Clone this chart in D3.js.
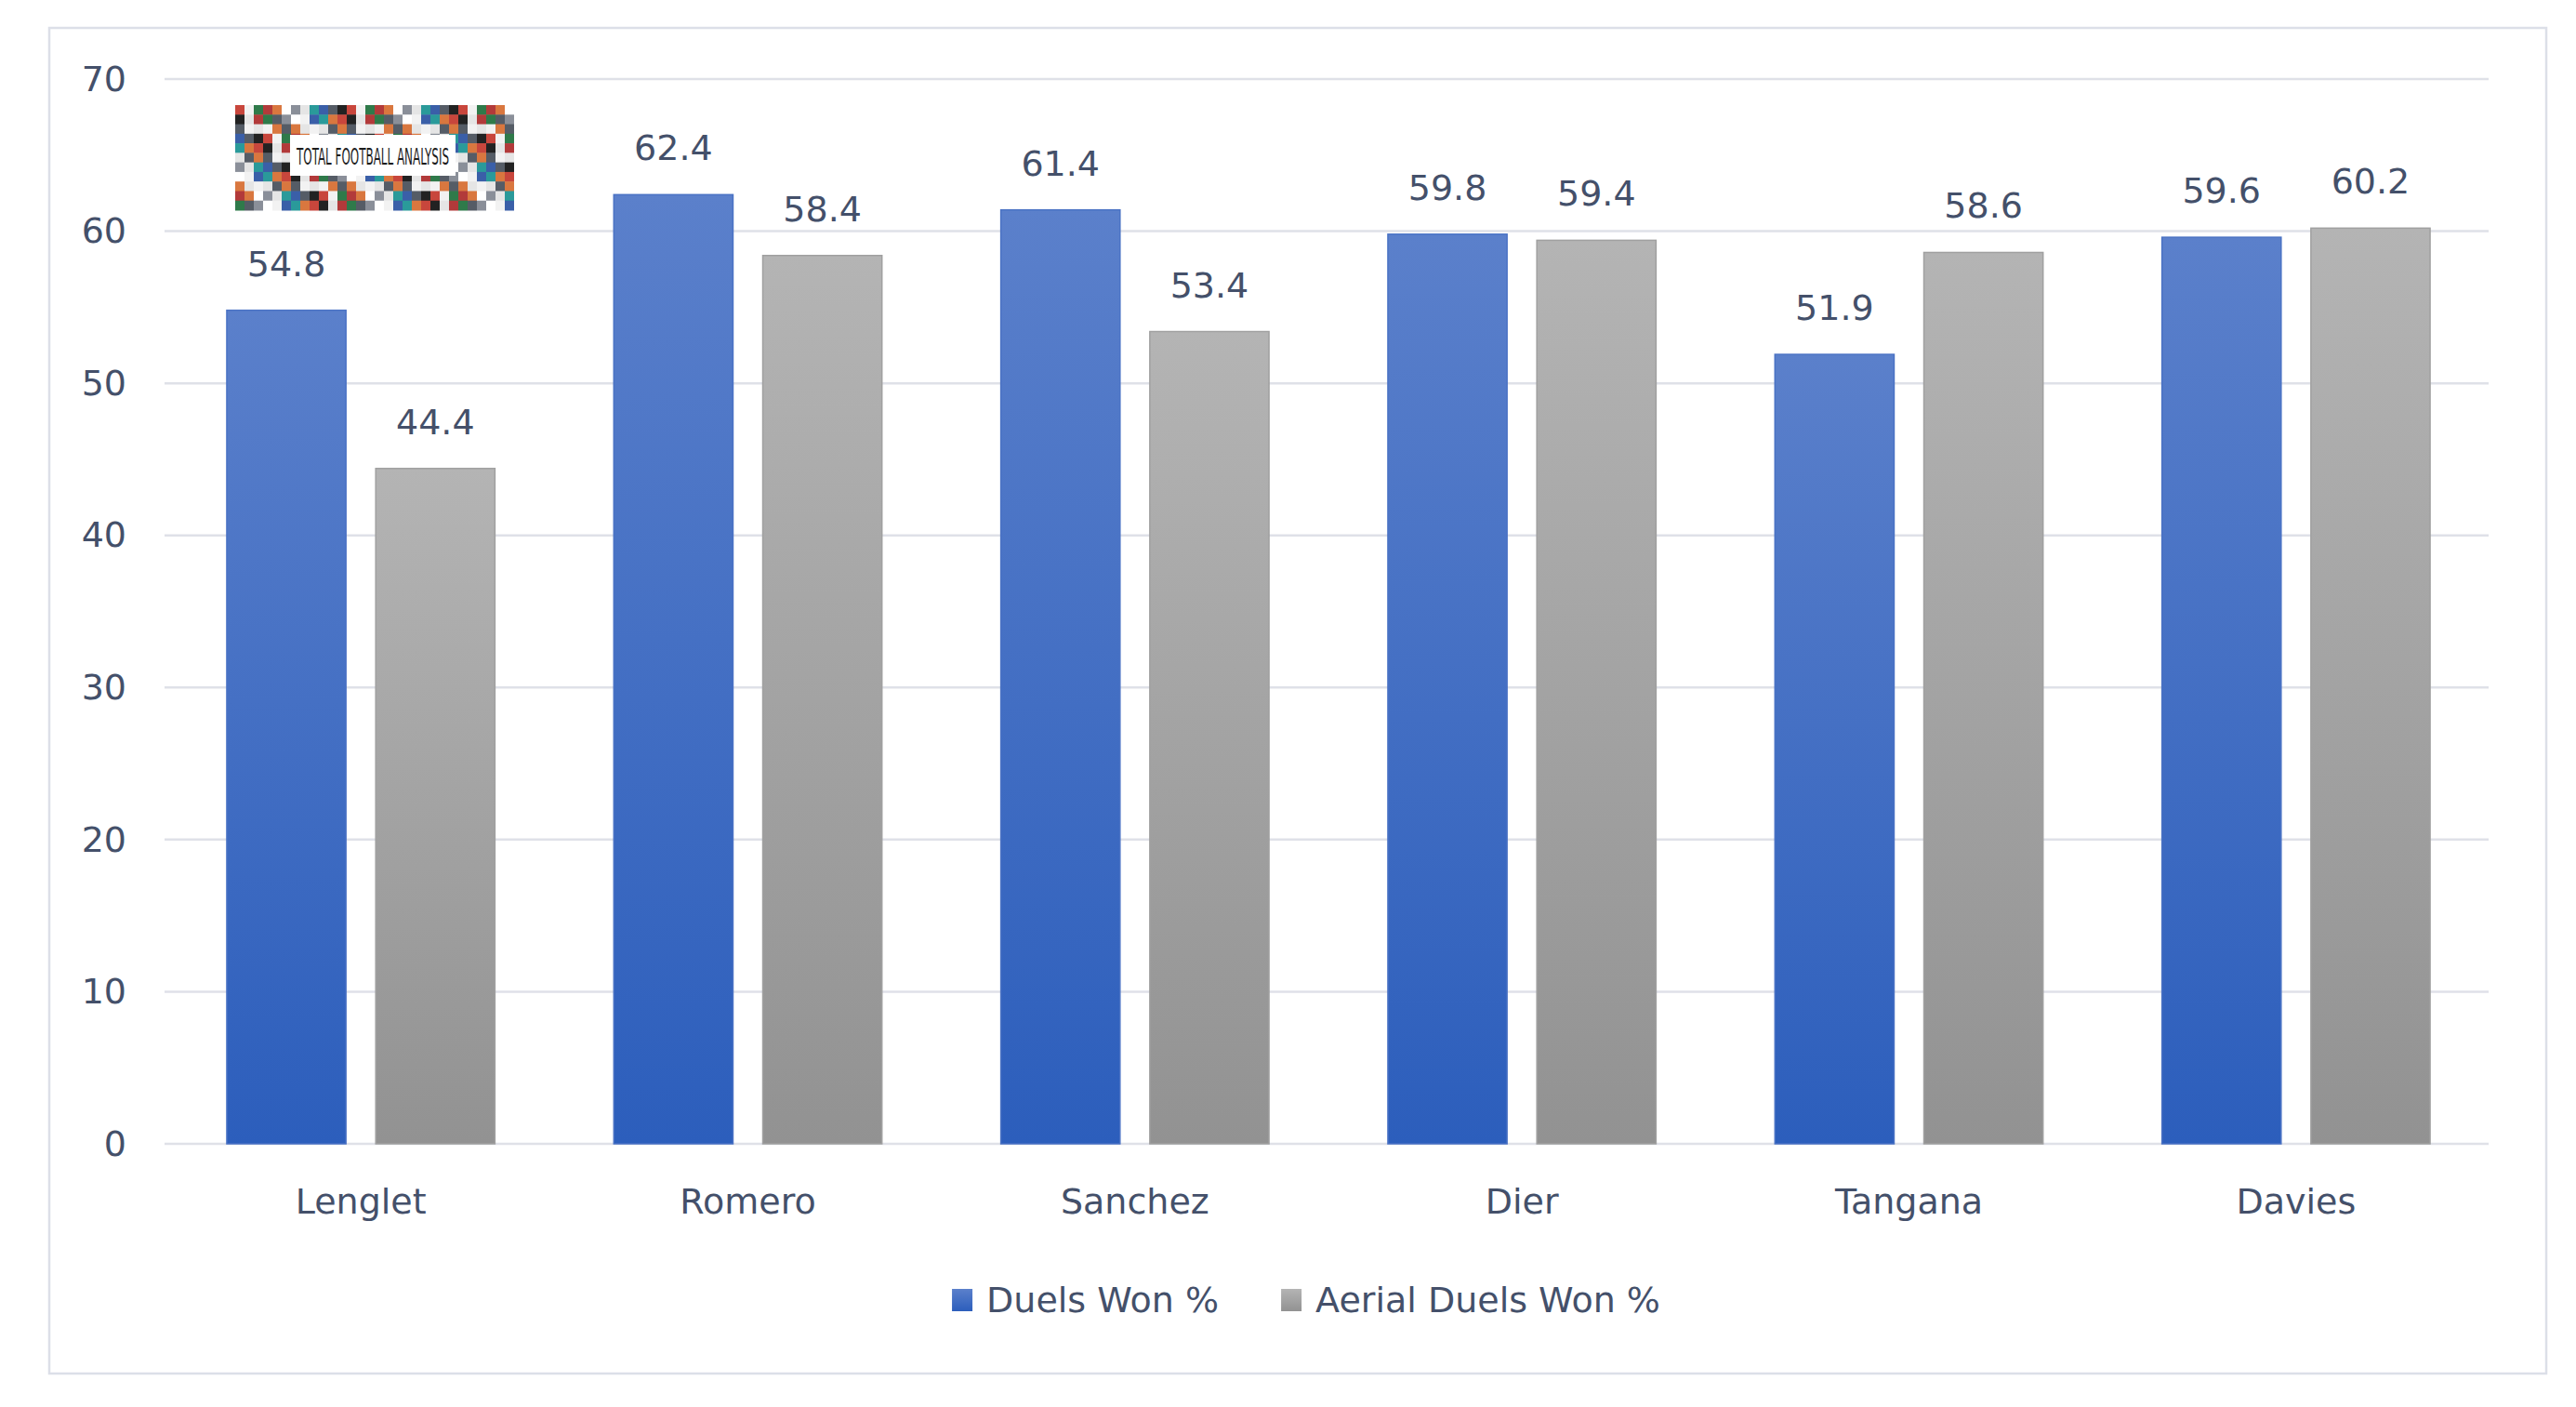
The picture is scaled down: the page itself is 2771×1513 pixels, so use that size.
<!DOCTYPE html>
<html>
<head>
<meta charset="utf-8">
<script src="https://cdn.jsdelivr.net/npm/d3@7"></script>
<style>
  html, body { margin: 0; padding: 0; background: #fff; }
  svg { display: block; font-family: "DejaVu Sans", sans-serif; }
</style>
</head>
<body>
<svg id="chart"></svg>
<script>
const players = ["Lenglet", "Romero", "Sanchez", "Dier", "Tangana", "Davies"];
const seriesNames = ["Duels Won %", "Aerial Duels Won %"];
const duelsWon = [54.8, 62.4, 61.4, 59.8, 51.9, 59.6];
const aerialWon = [44.4, 58.4, 53.4, 59.4, 58.6, 60.2];
const yTicks = [0, 10, 20, 30, 40, 50, 60, 70];

const width = 2771;
const height = 1513;
const plot = { left: 177, right: 2677, top: 85, bottom: 1230 };
const textColor = "#44506a";
const fontSize = "38px";

const svg = d3.select("#chart").attr("width", width).attr("height", height);

// outer chart border
svg.append("rect")
  .attr("x", 53).attr("y", 30)
  .attr("width", 2686).attr("height", 1447)
  .attr("fill", "#fff")
  .attr("stroke", "#dcdfe8")
  .attr("stroke-width", 2.5);

const defs = svg.append("defs");
const grads = [
  { id: "gBlue", top: "#5b80cb", bottom: "#2c5ebc" },
  { id: "gGray", top: "#b4b4b4", bottom: "#929292" }
];
grads.forEach(g => {
  const lg = defs.append("linearGradient")
    .attr("id", g.id).attr("x1", 0).attr("y1", 0).attr("x2", 0).attr("y2", 1);
  lg.append("stop").attr("offset", "0%").attr("stop-color", g.top);
  lg.append("stop").attr("offset", "100%").attr("stop-color", g.bottom);
});

const y = d3.scaleLinear().domain([0, 70]).range([plot.bottom, plot.top]);

const x0 = d3.scaleBand()
  .domain(players)
  .range([plot.left + 3, plot.right + 1])
  .paddingInner(0.3072)
  .paddingOuter(0.1536);

const x1 = d3.scaleBand()
  .domain(seriesNames)
  .range([0, x0.bandwidth()])
  .paddingInner(0.2);

// gridlines
svg.append("g")
  .selectAll("line")
  .data(yTicks)
  .join("line")
  .attr("x1", plot.left).attr("x2", plot.right)
  .attr("y1", d => y(d)).attr("y2", d => y(d))
  .attr("stroke", "#dfe1e8")
  .attr("stroke-width", 2.5);

// y axis labels
const yAxis = svg.append("g")
  .attr("transform", `translate(${plot.left - 41},0)`)
  .call(d3.axisLeft(y).tickValues(yTicks).tickSize(0).tickPadding(0));
yAxis.select(".domain").remove();
yAxis.selectAll("text")
  .attr("fill", textColor)
  .style("font-size", fontSize)
  .style("font-family", "'DejaVu Sans', sans-serif");

// x axis labels
const xAxis = svg.append("g")
  .attr("transform", `translate(0,${plot.bottom})`)
  .call(d3.axisBottom(x0).tickSize(0).tickPadding(48));
xAxis.select(".domain").remove();
xAxis.selectAll("text")
  .attr("fill", textColor)
  .style("font-size", fontSize)
  .style("font-family", "'DejaVu Sans', sans-serif");

const rows = players.map((p, i) => ({
  player: p,
  values: [
    { key: seriesNames[0], value: duelsWon[i], fill: "url(#gBlue)", stroke: "#4a72c4" },
    { key: seriesNames[1], value: aerialWon[i], fill: "url(#gGray)", stroke: "#a0a0a0" }
  ]
}));

const groups = svg.append("g")
  .selectAll("g")
  .data(rows)
  .join("g")
  .attr("transform", d => `translate(${x0(d.player)},0)`);

groups.selectAll("rect")
  .data(d => d.values)
  .join("rect")
  .attr("x", d => x1(d.key))
  .attr("y", d => y(d.value))
  .attr("width", x1.bandwidth())
  .attr("height", d => y(0) - y(d.value))
  .attr("fill", d => d.fill)
  .attr("stroke", d => d.stroke)
  .attr("stroke-width", 1.5);

groups.selectAll("text")
  .data(d => d.values)
  .join("text")
  .attr("x", d => x1(d.key) + x1.bandwidth() / 2)
  .attr("y", d => y(d.value) - 37)
  .attr("text-anchor", "middle")
  .attr("fill", textColor)
  .style("font-size", fontSize)
  .text(d => d.value.toFixed(1));

// legend
const legend = svg.append("g");
const legendColors = ["url(#gBlue)", "url(#gGray)"];
let lx = 0;
seriesNames.forEach((name, i) => {
  const item = legend.append("g").attr("transform", `translate(${lx},0)`);
  item.append("rect")
    .attr("x", 0).attr("y", -12)
    .attr("width", 22).attr("height", 24)
    .attr("fill", legendColors[i]);
  const t = item.append("text")
    .attr("x", 37).attr("y", 13)
    .attr("fill", textColor)
    .style("font-size", fontSize)
    .text(name);
  lx += 37 + t.node().getComputedTextLength() + 67;
});
const legendWidth = lx - 67;
legend.attr("transform", `translate(${1405 - legendWidth / 2},1398)`);

// logo placeholder (collage with title box)
const logo = svg.append("g").attr("transform", "translate(253,113)");
const collage = ["#c8463c", "#e5e5e5", "#2f7a4a", "#3a5fa8", "#d9773f", "#222", "#8a8f99", "#f2f2f2", "#2a9a9a", "#b23a3a", "#555c66", "#ffffff"];
const cell = 10;
const cols = 30, rowsN = 11;
const cells = d3.range(cols * rowsN).map(k => ({ c: k % cols, r: Math.floor(k / cols), k }));
logo.append("g")
  .selectAll("rect")
  .data(cells)
  .join("rect")
  .attr("x", d => d.c * cell)
  .attr("y", d => d.r * (113 / rowsN))
  .attr("width", cell)
  .attr("height", 113 / rowsN + 0.5)
  .attr("fill", d => collage[(d.c * 7 + d.r * 5 + (d.c * d.r) % 3) % collage.length]);
logo.append("rect")
  .attr("x", 59).attr("y", 32)
  .attr("width", 178).attr("height", 44)
  .attr("fill", "#fff");
logo.append("text")
  .attr("x", 148).attr("y", 64)
  .attr("text-anchor", "middle")
  .attr("fill", "#1c1c1c")
  .attr("textLength", 164)
  .attr("lengthAdjust", "spacingAndGlyphs")
  .style("font-size", "24px")
  .style("font-family", "'DejaVu Sans Condensed', 'Liberation Sans Narrow', sans-serif")
  .text("TOTAL FOOTBALL ANALYSIS");
</script>
</body>
</html>
